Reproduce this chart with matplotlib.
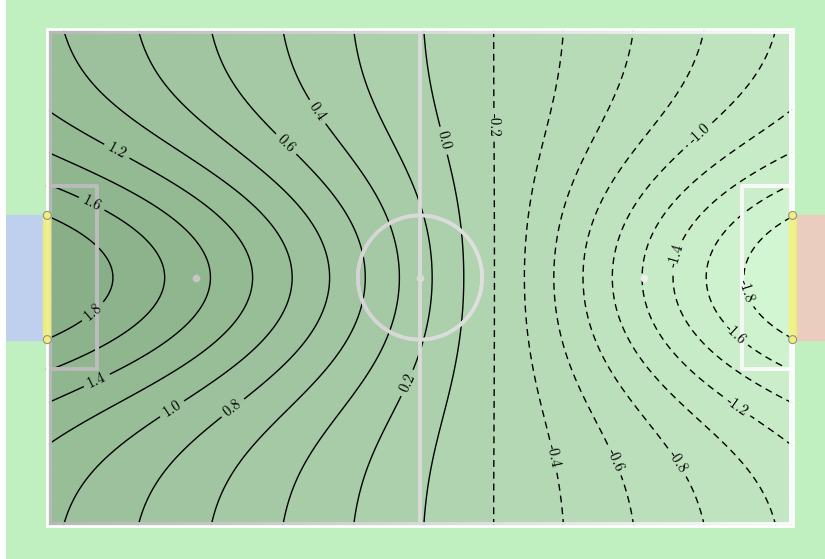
import numpy as np
import matplotlib
matplotlib.use('Agg')
import matplotlib.pyplot as plt
from matplotlib.collections import LineCollection
from matplotlib.colors import LinearSegmentedColormap
from matplotlib.patches import Rectangle, Circle

plt.rcParams['font.family'] = ['cmr10', 'DejaVu Serif']
plt.rcParams['axes.unicode_minus'] = False
plt.rcParams['axes.formatter.use_mathtext'] = True

# pitch in units: x in [-1.5, 1.5], y in [-1, 1]
half_len = 1.5
half_wid = 1.0
goal_half = 0.25
circle_r = 0.25
box_depth = 0.202
box_half = 0.37
spot_x = 0.9

# contour crossings read along the halfway axis (y = 0)
centre_x = [-1.5, -1.238, -1.029, -0.840, -0.671, -0.515, -0.366, -0.221, -0.084, 0.048,
            0.173, 0.302, 0.426, 0.543, 0.655, 0.772, 0.889, 1.017, 1.150, 1.315, 1.5]
centre_v = [2.0, 1.8, 1.6, 1.4, 1.2, 1.0, 0.8, 0.6, 0.4, 0.2,
            0.0, -0.2, -0.4, -0.6, -0.8, -1.0, -1.2, -1.4, -1.6, -1.8, -2.0]
# contour crossings read along the touchlines (|y| = 1)
edge_x = [-1.435, -1.134, -0.840, -0.555, -0.269, 0.016, 0.302, 0.579, 0.856, 1.142, 1.435]
edge_v = [1.0, 0.8, 0.6, 0.4, 0.2, 0.0, -0.2, -0.4, -0.6, -0.8, -1.0]
# how fast the goal influence fades towards the touchlines
falloff = 0.52

levels = np.round(np.arange(-1.8, 1.81, 0.2), 1) + 0.0
fill_levels = np.round(np.arange(-2.4, 2.41, 0.2), 1)

# label spots (pixels in the picture)
label_px = [(92, 312), (93, 200), (98, 385), (118, 148), (175, 415), (235, 412), (290, 140),
            (320, 110), (410, 385), (447, 140), (494, 125), (550, 458), (610, 463),
            (672, 467), (695, 128), (733, 413), (673, 255), (733, 338), (747, 292)]

# field
p0 = np.poly1d(np.polyfit(centre_x, centre_v, 5))
p1 = np.poly1d(np.polyfit(edge_x, edge_v, 3))
X, Y = np.meshgrid(np.linspace(-half_len, half_len, 601), np.linspace(-half_wid, half_wid, 401))
g = np.exp(-(Y / falloff) ** 2)
g1 = np.exp(-(half_wid / falloff) ** 2)
w = (g - g1) / (1 - g1)
Z = w * p0(X) + (1 - w) * p1(X)

fig = plt.figure(figsize=(8.25, 5.59), dpi=100)
ax = fig.add_axes([6 / 825, 0, 819 / 825, 1])
ax.set_facecolor('#c0f0c0')
ax.set_xlim(-1.665, 1.629)
ax.set_ylim(-1.133, 1.117)
ax.set_aspect('equal')
ax.axis('off')
ax.add_patch(Rectangle((0, 0), 1, 1, transform=ax.transAxes, color='#c0f0c0', zorder=0))

green = LinearSegmentedColormap.from_list('pitch', ['#d4f7d4', '#87ad87'])
ax.contourf(X, Y, Z, levels=fill_levels, cmap=green, vmin=-2.0, vmax=2.0, extend='both', zorder=1)

# goals
ax.add_patch(Rectangle((-1.9, -goal_half), 0.4, 2 * goal_half, color='#bfd0ee', zorder=1))
ax.add_patch(Rectangle((half_len, -goal_half), 0.4, 2 * goal_half, color='#ebcdc0', zorder=1))

# pitch markings, grey getting lighter to the right
grey = LinearSegmentedColormap.from_list('lines', ['#b8b8b8', '#fbfbfb'])


def marking(xs, ys, lw=2.6, z=3):
    pts = np.column_stack([xs, ys])
    segs = np.stack([pts[:-1], pts[1:]], axis=1)
    cols = grey((pts[:-1, 0] + pts[1:, 0]) / 2 / (2 * half_len) + 0.5)
    ax.add_collection(LineCollection(segs, colors=cols, linewidths=lw, capstyle='round', zorder=z))


def poly(px, py, n=200):
    xs, ys = [], []
    for i in range(len(px) - 1):
        xs.append(np.linspace(px[i], px[i + 1], n))
        ys.append(np.linspace(py[i], py[i + 1], n))
    return np.concatenate(xs), np.concatenate(ys)


ins = 0.011
marking(*poly([-half_len + ins, half_len - ins, half_len - ins, -half_len + ins, -half_len + ins],
              [half_wid - ins, half_wid - ins, -half_wid + ins, -half_wid + ins, half_wid - ins]), lw=2.0)
ax.add_patch(Rectangle((-half_len, -half_wid), 2 * half_len, 2 * half_wid, fill=False,
                       edgecolor='white', lw=2.0, zorder=4))
marking(*poly([0, 0], [-half_wid + ins, half_wid - ins]))
t = np.linspace(0, 2 * np.pi, 400)
marking(circle_r * np.cos(t), circle_r * np.sin(t))
for s in (-1, 1):
    bx = s * (half_len - box_depth)
    marking(*poly([s * half_len, bx, bx, s * half_len], [box_half, box_half, -box_half, -box_half]))
for sx in (-spot_x, 0, spot_x):
    ax.plot([sx], [0], 'o', ms=5.5, mec='none', mfc=grey(sx / (2 * half_len) + 0.5), zorder=3)

# goal lines and posts
for s in (-1, 1):
    ax.plot([s * half_len, s * half_len], [-goal_half, goal_half], color='#f0f07c', lw=6,
            solid_capstyle='butt', zorder=5, alpha=0.9)
    for py in (-goal_half, goal_half):
        ax.add_patch(Circle((s * half_len, py), 0.016, facecolor='#f3f07a', edgecolor='#8f8f8f',
                            lw=0.8, zorder=6))

cs = ax.contour(X, Y, Z, levels=levels, colors='k', linewidths=1.0,
                negative_linestyles=(0, (5, 3.5)), zorder=2)
manual = [((px - 420) / 249.0, (278 - py) / 249.0) for px, py in label_px]
ax.clabel(cs, fmt='%.1f', fontsize=10.5, inline=True, manual=manual)

fig.savefig('out.png', dpi=100, facecolor='white')
